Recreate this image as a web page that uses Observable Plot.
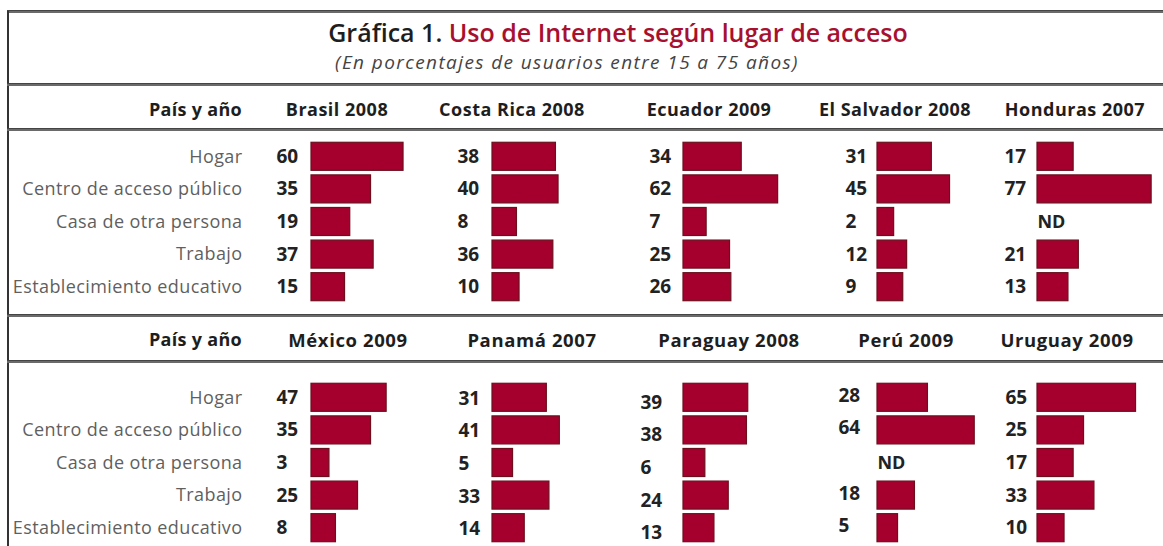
<!DOCTYPE html>
<html>
<head>
<meta charset="utf-8">
<script src="https://cdn.jsdelivr.net/npm/d3@7"></script>
<script src="https://cdn.jsdelivr.net/npm/@observablehq/plot@0.6"></script>
<style>
  html, body { margin: 0; padding: 0; background: #fff; }
  #root { position: relative; width: 1163px; height: 546px; overflow: hidden; background: #fff; font-family: "Open Sans", "DejaVu Sans", sans-serif; }
  .abs { position: absolute; }
  .hline { position: absolute; left: 7px; right: 0; height: 3px; background: #6a6a6a; border-top: 1px solid #444; box-sizing: border-box; }
  .vline { position: absolute; left: 7px; width: 2px; top: 11px; bottom: 0; background: #333; }
  .title { position: absolute; left: 0; width: 1236px; text-align: center; top: 19px; line-height: 27px; font-size: 25px; font-weight: 600; color: #1e1e1e; white-space: nowrap; }
  .title .red { color: #a8102f; }
  .subtitle { position: absolute; left: 0; width: 1134px; text-align: center; top: 51px; line-height: 22px; font-size: 19px; letter-spacing: 1.4px; font-style: italic; color: #444; white-space: nowrap; }
  .hdr { position: absolute; font-weight: 700; color: #1e1e1e; white-space: nowrap; text-align: center; width: 240px; }
  .pais { position: absolute; font-weight: 700; color: #1e1e1e; white-space: nowrap; text-align: right; font-size: 18px; letter-spacing: 0.3px; }
  svg { background: transparent !important; overflow: visible; max-width: none !important; }
</style>
</head>
<body>
<div id="root">
  <div class="hline" style="top:10px"></div>
  <div class="vline"></div>
  <div class="title">Gráfica 1. <span class="red">Uso de Internet según lugar de acceso</span></div>
  <div class="subtitle">(En porcentajes de usuarios entre 15 a 75 años)</div>
  <div class="hline" style="top:83px"></div>
  <div class="hline" style="top:128px"></div>
  <div class="hline" style="top:314px"></div>
  <div class="hline" style="top:360px"></div>
</div>
<script>
// ---- Data ----
const categories = ["Hogar", "Centro de acceso público", "Casa de otra persona", "Trabajo", "Establecimiento educativo"];
const rowHeader = "País y año";
const countries1 = ["Brasil 2008", "Costa Rica 2008", "Ecuador 2009", "El Salvador 2008", "Honduras 2007"];
const countries2 = ["México 2009", "Panamá 2007", "Paraguay 2008", "Perú 2009", "Uruguay 2009"];
const brasil     = [60, 35, 19, 37, 15];
const costaRica  = [38, 40, 8, 36, 10];
const ecuador    = [34, 62, 7, 25, 26];
const elSalvador = [31, 45, 2, 12, 9];
const honduras   = [17, 77, null, 21, 13];
const mexico     = [47, 35, 3, 25, 8];
const panama     = [31, 41, 5, 33, 14];
const paraguay   = [39, 38, 6, 24, 13];
const peru       = [28, 64, null, 18, 5];
const uruguay    = [65, 25, 17, 33, 10];
const missingLabel = "ND";

// ---- Layout / style ----
const sections = [
  {countries: countries1, values: [brasil, costaRica, ecuador, elSalvador, honduras],
   headerTop: 97, headerSize: 18, headerSpacing: 0.5, headerCenters: [337, 512, 709, 895, 1075],
   plotTop: 140, labelDx: [35, 35, 34, 32, 33], labelDy: [0, 0, 0, 0, 0]},
  {countries: countries2, values: [mexico, panama, paraguay, peru, uruguay],
   headerTop: 327, headerSize: 18.5, headerSpacing: 0.6, headerCenters: [348, 532, 729, 906, 1067],
   plotTop: 380.5, labelDx: [35, 34, 43, 39, 32], labelDy: [0, 1, 5, -2, 0]}
];
const barStarts = [311, 492, 683, 877, 1037];
const barFill = "#a5002d";
const barStroke = "#6b0f1e";
const xLo = -10.8;      // bar baseline (bars have a minimum visible length)
const xHi = 90;
const pxPerUnit = 1.3;
const mLeft = 50, mRight = 6;
const plotH = 163;
const root = document.getElementById("root");

function place(el, left, top) {
  const wrap = document.createElement("div");
  wrap.className = "abs";
  wrap.style.left = left + "px";
  wrap.style.top = top + "px";
  wrap.appendChild(el);
  root.appendChild(wrap);
}

const yScale = {domain: categories, axis: null, paddingInner: 0.14, paddingOuter: 0.07, round: false};

sections.forEach((sec) => {
  // header row
  const p = document.createElement("div");
  p.className = "pais";
  p.textContent = rowHeader;
  p.style.right = (1163 - 242) + "px";
  p.style.top = sec.headerTop + "px";
  root.appendChild(p);
  sec.countries.forEach((c, i) => {
    const h = document.createElement("div");
    h.className = "hdr";
    h.textContent = c;
    h.style.left = (sec.headerCenters[i] - 120) + "px";
    h.style.top = sec.headerTop + "px";
    h.style.fontSize = sec.headerSize + "px";
    h.style.letterSpacing = sec.headerSpacing + "px";
    root.appendChild(h);
  });

  // category labels (y axis)
  const axisPlot = Plot.plot({
    width: 243, height: plotH, marginTop: 0, marginBottom: 0, marginRight: 0, marginLeft: 242,
    style: {fontFamily: "'Open Sans', sans-serif", fontSize: "18px", letterSpacing: "0.4px", background: "transparent"},
    y: yScale,
    marks: [Plot.axisY({tickSize: 0, tickPadding: 0, label: null, fontSize: 18, fill: "#5f5f5f"})]
  });
  place(axisPlot, 0, sec.plotTop);

  // country cells
  sec.values.forEach((vals, i) => {
    const rows = categories.map((cat, k) => ({cat, value: vals[k]}));
    const present = rows.filter(d => d.value != null);
    const missing = rows.filter(d => d.value == null);
    const width = mLeft + (xHi - xLo) * pxPerUnit + mRight;
    const cell = Plot.plot({
      width, height: plotH, marginTop: 0, marginBottom: 0, marginLeft: mLeft, marginRight: mRight,
      style: {fontFamily: "'Open Sans', sans-serif", background: "transparent"},
      x: {domain: [xLo, xHi], axis: null},
      y: yScale,
      marks: [
        Plot.barX(present, {y: "cat", x1: xLo, x2: "value", fill: barFill, stroke: barStroke, strokeWidth: 1.2}),
        Plot.text(present, {y: "cat", x: xLo, text: d => String(d.value), textAnchor: "start",
          dx: -sec.labelDx[i], dy: sec.labelDy[i], fontSize: 19, fontWeight: 700, fill: "#222"}),
        Plot.text(missing, {y: "cat", x: xLo, text: () => missingLabel, textAnchor: "start",
          dx: 0, fontSize: 18, fontWeight: 700, fill: "#222"})
      ]
    });
    place(cell, barStarts[i] - mLeft, sec.plotTop);
  });
});
</script>
</body>
</html>
